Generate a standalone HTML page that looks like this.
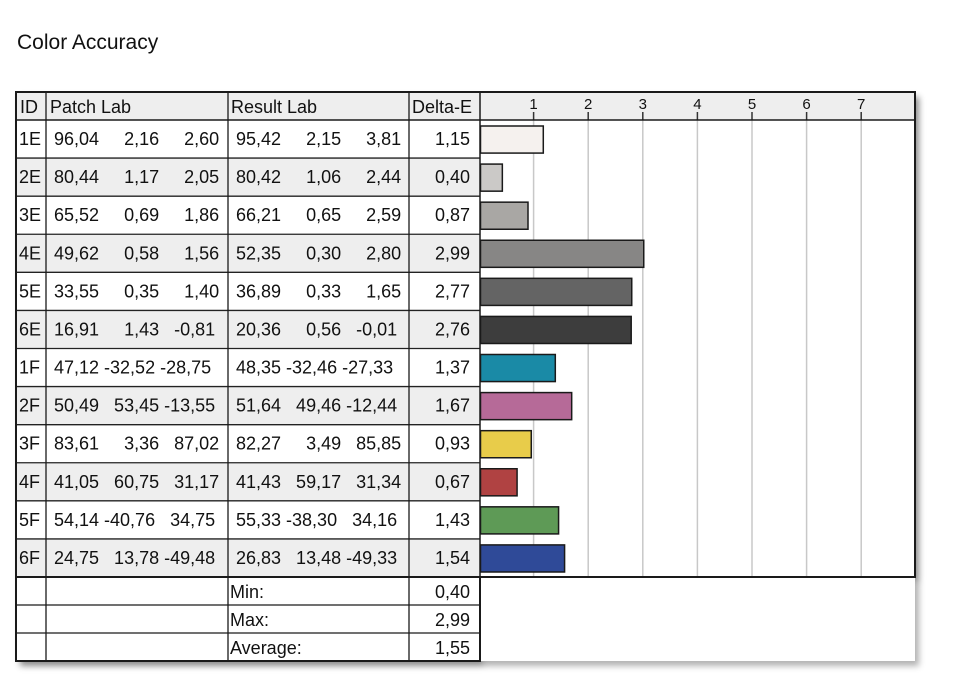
<!DOCTYPE html>
<html><head><meta charset="utf-8"><style>
body{margin:0;background:#fff;width:965px;height:690px;position:relative;overflow:hidden;font-family:"Liberation Sans",Arial,sans-serif;color:#111}
.a{position:absolute}
.t{position:absolute;font-size:18px;white-space:pre;line-height:20px}
</style></head><body>
<div class="t" style="left:17px;top:31px;font-size:21px;line-height:24px">Color Accuracy</div>
<div class="a" style="left:16px;top:92px;width:899px;height:485px;box-shadow:4px 5px 6px rgba(0,0,0,.45)"></div>
<div class="a" style="left:16px;top:577px;width:464px;height:84px;box-shadow:4px 5px 6px rgba(0,0,0,.45)"></div>
<div class="a" style="left:480px;top:577px;width:435px;height:84px;box-shadow:4px 5px 6px rgba(0,0,0,.3);background:#fff"></div>
<svg class="a" style="left:0;top:0" width="965" height="690" xmlns="http://www.w3.org/2000/svg" font-family="Liberation Sans, Arial, sans-serif" font-size="18" fill="#111">
<rect x="16" y="92" width="899" height="485" fill="#fff"/>
<rect x="16" y="577" width="464" height="84" fill="#fff"/>
<rect x="480" y="577" width="435" height="84" fill="#fff"/>
<rect x="16" y="92" width="899" height="28" fill="#eeeeee"/>
<g id="rows"></g>
<g stroke="#c8c8c8" stroke-width="1.5">
<line x1="533.6" y1="120" x2="533.6" y2="577"/><line x1="588.2" y1="120" x2="588.2" y2="577"/><line x1="642.8" y1="120" x2="642.8" y2="577"/><line x1="697.4" y1="120" x2="697.4" y2="577"/><line x1="752" y1="120" x2="752" y2="577"/><line x1="806.6" y1="120" x2="806.6" y2="577"/><line x1="861.2" y1="120" x2="861.2" y2="577"/>
</g>
<g id="bars"></g>
<g stroke="#333" stroke-width="1.5">
<line x1="533.6" y1="112" x2="533.6" y2="120"/><line x1="588.2" y1="112" x2="588.2" y2="120"/><line x1="642.8" y1="112" x2="642.8" y2="120"/><line x1="697.4" y1="112" x2="697.4" y2="120"/><line x1="752" y1="112" x2="752" y2="120"/><line x1="806.6" y1="112" x2="806.6" y2="120"/><line x1="861.2" y1="112" x2="861.2" y2="120"/>
</g>
<g font-size="15" text-anchor="middle">
<text x="533.6" y="109">1</text><text x="588.2" y="109">2</text><text x="642.8" y="109">3</text><text x="697.4" y="109">4</text><text x="752" y="109">5</text><text x="806.6" y="109">6</text><text x="861.2" y="109">7</text>
</g>
<text x="20" y="113">ID</text><text x="50" y="113">Patch Lab</text><text x="231" y="113">Result Lab</text><text x="412" y="113">Delta-E</text>
</svg>
<script>
const d=[["1E","96,04","2,16","2,60","95,42","2,15","3,81","1,15","#f5f1ee"],
["2E","80,44","1,17","2,05","80,42","1,06","2,44","0,40","#cbc9c7"],
["3E","65,52","0,69","1,86","66,21","0,65","2,59","0,87","#a9a7a4"],
["4E","49,62","0,58","1,56","52,35","0,30","2,80","2,99","#878685"],
["5E","33,55","0,35","1,40","36,89","0,33","1,65","2,77","#646464"],
["6E","16,91","1,43","-0,81","20,36","0,56","-0,01","2,76","#3d3d3d"],
["1F","47,12","-32,52","-28,75","48,35","-32,46","-27,33","1,37","#1a8aa6"],
["2F","50,49","53,45","-13,55","51,64","49,46","-12,44","1,67","#b66a98"],
["3F","83,61","3,36","87,02","82,27","3,49","85,85","0,93","#e8cc4a"],
["4F","41,05","60,75","31,17","41,43","59,17","31,34","0,67","#b04242"],
["5F","54,14","-40,76","34,75","55,33","-38,30","34,16","1,43","#5e9a56"],
["6F","24,75","13,78","-49,48","26,83","13,48","-49,33","1,54","#2f4a98"]];
const NS="http://www.w3.org/2000/svg";const svg=document.querySelector("svg");const g=document.getElementById("rows");const gb=document.getElementById("bars");
function el(t,a,p){const e=document.createElementNS(NS,t);for(const k in a)e.setAttribute(k,a[k]);(p||g).appendChild(e);return e}
function txt(x,y,s,anchor){const e=el("text",{x:x,y:y,"text-anchor":anchor||"start"},svg);e.setAttribute("xml:space","preserve");e.style.whiteSpace="pre";e.textContent=s;}
const pad=s=>"\u2007".repeat(Math.max(0,6-s.length))+s;
const H=38.083;
d.forEach((r,i)=>{const y=120+i*H;
 if(i%2) el("rect",{x:16,y:y,width:464,height:H,fill:"#eeeeee"});
 const by=y+H/2+6;
 txt(19,by,r[0]);
 txt(54,by,r[1]+" "+pad(r[2])+" "+pad(r[3]));
 txt(236,by,r[4]+" "+pad(r[5])+" "+pad(r[6]));
 txt(470,by,r[7],"end");
 const v=parseFloat(r[7].replace(",","."));
 el("rect",{x:480.5,y:y+6,width:v*54.6,height:H-11,fill:r[8],stroke:"#1a1a1a","stroke-width":1.5},gb);
 if(i>0) el("line",{x1:16,y1:y,x2:480,y2:y,stroke:"#222","stroke-width":1.3});
});
[["Min:","0,40"],["Max:","2,99"],["Average:","1,55"]].forEach((r,i)=>{const y=577+i*28;txt(230,y+21,r[0]);txt(470,y+21,r[1],"end");});
const L=(x1,y1,x2,y2,w)=>el("line",{x1,y1,x2,y2,stroke:"#1a1a1a","stroke-width":w||1.3},svg);
L(16,120,915,120,1.5);L(16,577,915,577,1.5);L(16,605,480,605);L(16,633,480,633);
[46,228,409].forEach(x=>L(x,92,x,661));L(480,92,480,661,1.5);
el("rect",{x:16,y:92,width:899,height:485,fill:"none",stroke:"#1a1a1a","stroke-width":2},svg);
el("rect",{x:16,y:577,width:464,height:84,fill:"none",stroke:"#1a1a1a","stroke-width":2},svg);
</script>
</body></html>
